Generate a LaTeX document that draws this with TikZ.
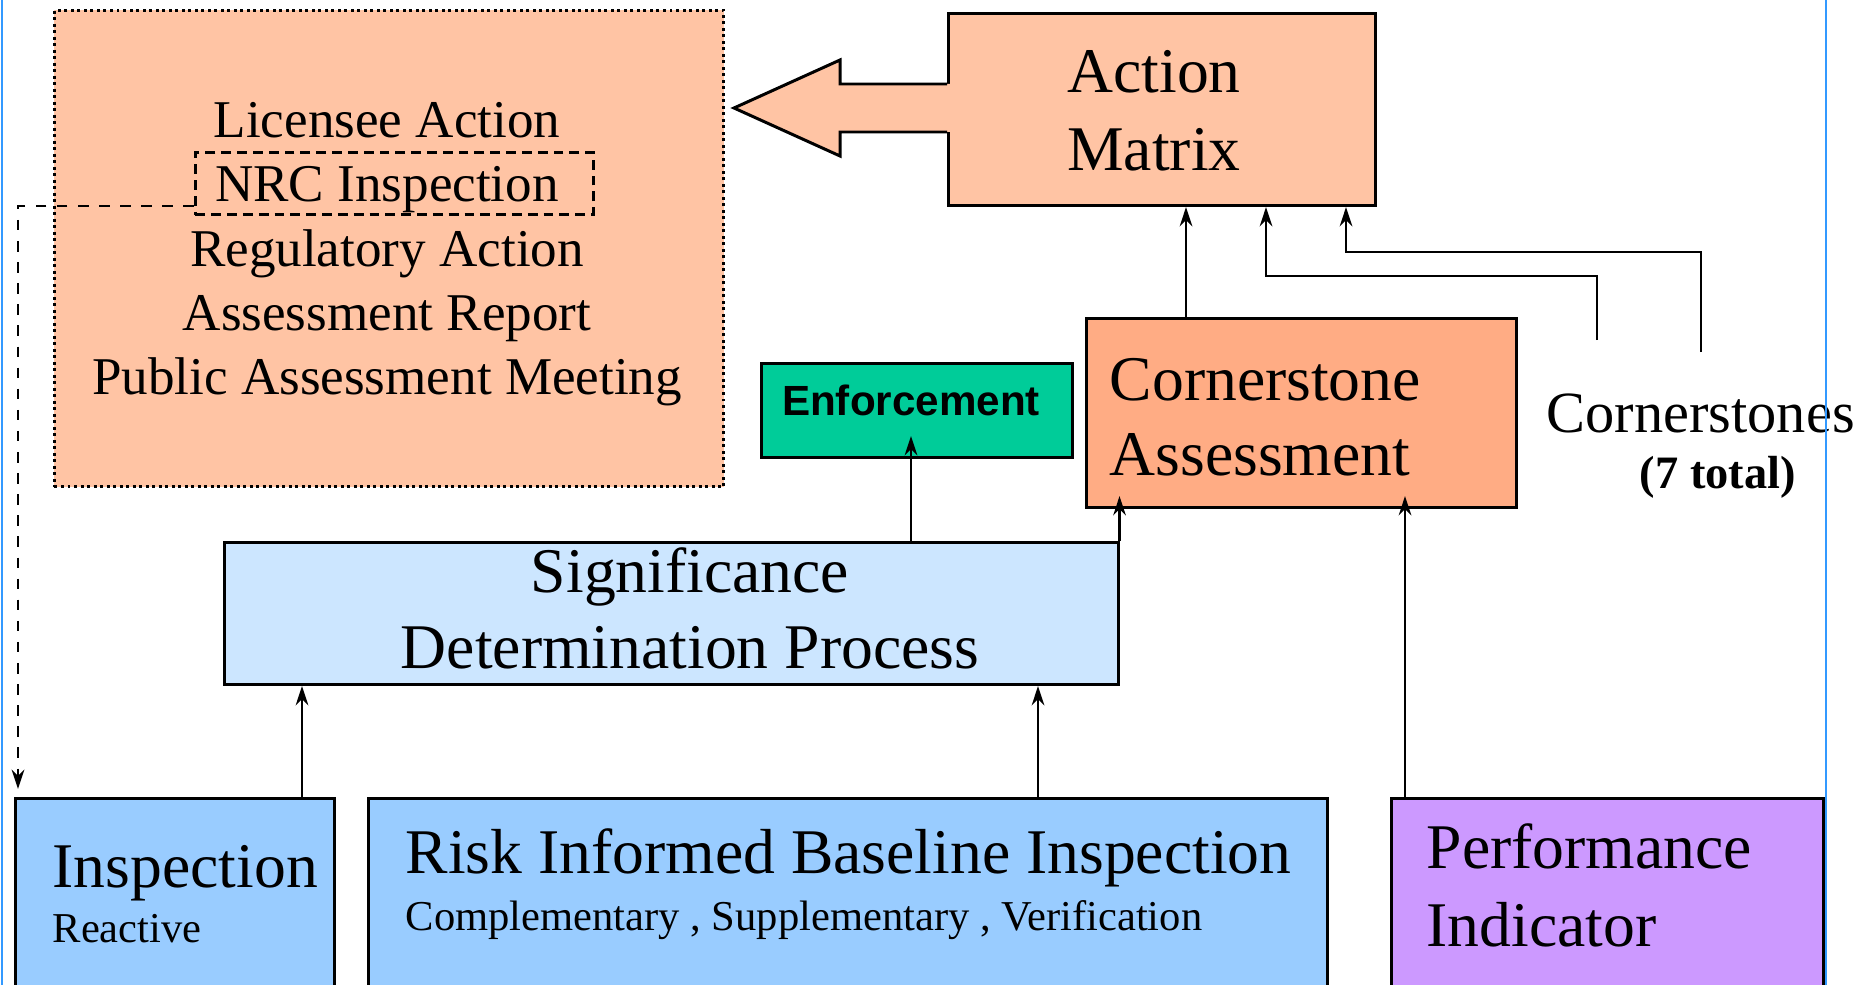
\documentclass[tikz,border=0pt]{standalone}
\usepackage{fontspec}
\setmainfont{Liberation Serif}
\setsansfont{Liberation Sans}
\usetikzlibrary{positioning, arrows.meta}

\definecolor{salmon}{HTML}{FFC4A4}
\definecolor{deepsalmon}{HTML}{FFAC84}
\definecolor{sea}{HTML}{00CC99}
\definecolor{paleblue}{HTML}{CCE6FF}
\definecolor{skyblue}{HTML}{99CCFF}
\definecolor{lilac}{HTML}{CC99FF}
\definecolor{slideblue}{HTML}{3399FF}

\begin{document}
\begin{tikzpicture}[
        x=0.01cm, y=-0.01cm,
        box/.style={draw, line width=0.85pt, rectangle, inner sep=0pt, anchor=north west},
        bigtext/.style={font=\fontsize{18.1}{21.7}\selectfont, inner sep=0pt},
        midtext/.style={font=\fontsize{15.1}{18.2}\selectfont, inner sep=0pt},
        smalltext/.style={font=\fontsize{12.1}{14.5}\selectfont, inner sep=0pt},
        link/.style={-{Stealth[length=5.5pt, width=3.6pt]}, line width=0.7pt}
    ]
    \clip (0,0) rectangle (1873,985);

    % upper boxes
    \node[box, fill=salmon, densely dotted, minimum width=6.69cm, minimum height=4.76cm] (lic) at (53,9) {};
    \node[box, dash pattern=on 2.8pt off 1.7pt, minimum width=3.98cm, minimum height=0.62cm] (nrc) at (194,151) {};
    \node[box, fill=salmon, minimum width=4.27cm, minimum height=1.92cm] (am) at (947,12) {};
    \fill[salmon] (952,84) -- (840,84) -- (840,60) -- (734,108) -- (840,156) -- (840,132) -- (952,132) -- cycle;
    \draw[line width=0.85pt] (947,84) -- (840,84) -- (840,60) -- (734,108) -- (840,156) -- (840,132) -- (947,132);
    \node[box, fill=sea, minimum width=3.11cm, minimum height=0.94cm] (enf) at (760,362) {};
    \node[box, fill=deepsalmon, minimum width=4.30cm, minimum height=1.89cm] (ca) at (1085,317) {};
    \node[box, fill=paleblue, minimum width=8.93cm, minimum height=1.42cm] (sdp) at (223,541) {};

    % bottom boxes
    \node[box, fill=skyblue, minimum width=3.19cm, minimum height=2.5cm] (ins) at (14,797) {};
    \node[box, fill=skyblue, minimum width=9.58cm, minimum height=2.5cm] (ribi) at (367,797) {};
    \node[box, fill=lilac, minimum width=4.32cm, minimum height=2.5cm] (pi) at (1390,797) {};

    % texts
    \foreach \entry [count=\i] in {Licensee Action, NRC Inspection, Regulatory Action, Assessment Report, Public Assessment Meeting}
        \node[midtext, anchor=base] (lic\i) at (387, 74+64*\i) {\entry};
    \node[bigtext, anchor=base] (am1) at (1154,93) {Action};
    \node[bigtext, anchor=base] (am2) at (1154,170) {Matrix};
    \node[font=\sffamily\bfseries\fontsize{12}{14}\selectfont, inner sep=0pt, anchor=base] (enf1) at (911,415) {Enforcement};
    \node[bigtext, anchor=base west] (ca1) at (1109,400) {Cornerstone};
    \node[bigtext, anchor=base west] (ca2) at (1109,475) {Assessment};
    \node[font=\fontsize{16.6}{20}\selectfont, inner sep=0pt, anchor=base west] (cs1) at (1546,432) {Cornerstones};
    \node[font=\bfseries\fontsize{13.2}{16}\selectfont, inner sep=0pt, anchor=base west] (cs2) at (1639,488) {(7 total)};
    \node[bigtext, anchor=base] (sdp1) at (690,592) {Significance};
    \node[bigtext, anchor=base] (sdp2) at (690,668) {Determination Process};
    \node[bigtext, anchor=base west] (ins1) at (52,887) {Inspection};
    \node[smalltext, anchor=base west] (ins2) at (52,942) {Reactive};
    \node[bigtext, anchor=base west] (ribi1) at (405,873) {Risk Informed Baseline Inspection};
    \node[smalltext, anchor=base west] (ribi2) at (405,930) {Complementary , Supplementary , Verification};
    \node[bigtext, anchor=base west] (pi1) at (1426,868) {Performance};
    \node[bigtext, anchor=base west] (pi2) at (1426,946) {Indicator};

    % connectors
    \draw[link] (302,0 |- ins.north) -- (302,0 |- sdp.south);
    \draw[link] (1038,0 |- ribi.north) -- (1038,0 |- sdp.south);
    \draw[link] (911,0 |- sdp.north) -- ([yshift=0.23cm]911,0 |- enf.south);
    \draw[link] (sdp.north east) -- ([yshift=0.13cm]sdp.north east |- ca.south);
    \draw[link] (1405,0 |- pi.north) -- ([yshift=0.13cm]1405,0 |- ca.south);
    \draw[link] (1186,0 |- ca.north) -- (1186,0 |- am.south);
    \coordinate (feed1) at (1597,340);
    \coordinate (feed2) at (1701,352);
    \draw[link] (feed1) -- (1597,276) -| (1266,0 |- am.south);
    \draw[link] (feed2) -- (1701,252) -| (1346,0 |- am.south);
    \draw[link, dashed] ([yshift=0.1cm]nrc.south west) -| ([yshift=0.08cm]18,0 |- ins.north);

    % slide frame
    \draw[slideblue, line width=0.8pt] (2,0) -- (2,985);
    \draw[slideblue, line width=0.8pt] (1826,0) -- (1826,985);
\end{tikzpicture}
\end{document}
